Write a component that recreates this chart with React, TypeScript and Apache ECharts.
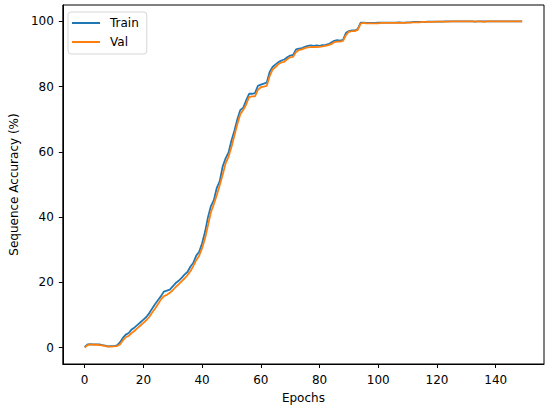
import React, { useEffect, useRef } from "react";
import * as echarts from "echarts";

const trainAcc = [
  0.2, 1.0, 1.1, 1.0, 1.0, 1.0, 0.8, 0.6, 0.4, 0.5,
  0.5, 0.7, 1.6, 3.0, 4.0, 4.5, 5.6, 6.2, 7.0, 7.8,
  8.6, 9.4, 10.6, 12.0, 13.4, 14.6, 15.8, 17.2, 17.5, 17.8,
  18.8, 19.8, 20.5, 21.4, 22.4, 23.2, 24.8, 26.0, 28.2, 29.4,
  32.0, 35.5, 40.0, 43.4, 45.2, 49.0, 51.0, 55.5, 58.0, 59.8,
  63.5, 66.5, 70.0, 72.8, 73.5, 75.8, 77.8, 77.8, 78.0, 80.2,
  80.6, 80.9, 81.2, 84.5, 86.0, 86.8, 87.5, 88.0, 88.3, 89.0,
  89.5, 89.7, 91.4, 91.6, 91.8, 92.2, 92.5, 92.6, 92.5, 92.6,
  92.5, 92.7, 92.8, 93.0, 93.5, 94.0, 94.2, 94.1, 94.3, 96.5,
  97.0, 97.2, 97.2, 97.6, 99.6, 99.6, 99.5, 99.5, 99.5, 99.5,
  99.6, 99.6, 99.6, 99.6, 99.6, 99.6, 99.6, 99.7, 99.6, 99.6,
  99.7, 99.7, 99.8, 99.8, 99.8, 99.8, 99.8, 99.9, 99.9, 99.9,
  99.9, 99.9, 99.9, 100, 100, 100, 100, 100, 100, 100,
  100, 100, 100, 99.9, 100, 100, 100, 100, 100, 100,
  100, 100, 100, 100, 100, 100, 100, 100, 100, 100,
];

const valAcc = [
  0.0, 0.8, 1.0, 0.9, 0.9, 0.8, 0.7, 0.5, 0.3, 0.3,
  0.4, 0.5, 1.0, 2.2, 3.2, 3.6, 4.5, 5.2, 6.0, 6.8,
  7.6, 8.4, 9.4, 10.8, 12.0, 13.4, 14.8, 15.8, 16.2, 16.8,
  17.6, 18.6, 19.4, 20.3, 21.2, 22.2, 23.4, 25.0, 26.8, 28.2,
  30.5, 33.5, 37.5, 41.5, 44.0, 46.8, 49.8, 53.0, 56.5, 58.5,
  61.5, 65.0, 68.5, 71.5, 72.8, 74.5, 76.8, 77.0, 77.0, 79.0,
  79.8, 80.0, 80.2, 83.2, 85.2, 86.0, 86.9, 87.4, 87.6, 88.4,
  89.0, 89.1, 90.6, 91.2, 91.4, 91.8, 92.0, 92.1, 92.2, 92.1,
  92.2, 92.3, 92.5, 92.7, 93.0, 93.6, 93.8, 93.8, 94.0, 95.8,
  96.8, 97.0, 97.0, 97.4, 99.3, 99.5, 99.4, 99.4, 99.4, 99.4,
  99.4, 99.5, 99.5, 99.5, 99.5, 99.5, 99.5, 99.6, 99.5, 99.5,
  99.6, 99.6, 99.7, 99.7, 99.7, 99.8, 99.8, 99.8, 99.8, 99.8,
  99.9, 99.9, 99.9, 99.9, 99.9, 100, 100, 100, 100, 100,
  100, 100, 100, 99.9, 100, 100, 99.8, 100, 100, 100,
  100, 100, 100, 100, 100, 100, 100, 100, 100, 100,
];

const xTicks = [0, 20, 40, 60, 80, 100, 120, 140];
const yTicks = [0, 20, 40, 60, 80, 100];
const seriesNames = ["Train", "Val"];
const colors = ["#1f77b4", "#ff7f0e"];

const FONT = "DejaVu Sans";

export default function App() {
  const ref = useRef<HTMLDivElement>(null);

  useEffect(() => {
    if (!ref.current) return;
    const chart = echarts.init(ref.current, undefined, { renderer: "svg" });
    const toPairs = (arr: number[]) => arr.map((v, i) => [i, v]);
    const n = trainAcc.length;
    const xPad = (n - 1) * 0.05;

    chart.setOption({
      animation: false,
      backgroundColor: "#ffffff",
      textStyle: { fontFamily: FONT },
      grid: {
        left: 62,
        right: 6,
        top: 5,
        bottom: 48,
        show: true,
        borderColor: "#000",
        borderWidth: 1,
        backgroundColor: "transparent",
      },
      legend: {
        left: 68,
        top: 12,
        orient: "vertical",
        data: seriesNames,
        icon: "rect",
        itemWidth: 28,
        itemHeight: 2,
        itemGap: 7,
        padding: [5, 8, 6, 4],
        borderColor: "#d6d6d6",
        borderWidth: 1,
        borderRadius: 3,
        backgroundColor: "rgba(255,255,255,0.8)",
        textStyle: {
          fontFamily: FONT,
          fontSize: 12,
          color: "#000",
          padding: [0, 0, 0, 5],
        },
      },
      xAxis: {
        type: "value",
        min: -xPad,
        max: n - 1 + xPad,
        name: "Epochs",
        nameLocation: "middle",
        nameGap: 28,
        nameTextStyle: { fontFamily: FONT, fontSize: 12, color: "#000" },
        axisLine: { show: true, onZero: false, lineStyle: { color: "#000", width: 1 } },
        axisTick: {
          show: true,
          length: 4,
          inside: false,
          customValues: xTicks,
          lineStyle: { color: "#000", width: 1 },
        },
        axisLabel: {
          customValues: xTicks,
          margin: 10,
          fontFamily: FONT,
          fontSize: 12,
          color: "#000",
        },
        splitLine: { show: false },
      },
      yAxis: {
        type: "value",
        min: -5,
        max: 105,
        name: "Sequence Accuracy (%)",
        nameLocation: "middle",
        nameGap: 42,
        nameTextStyle: { fontFamily: FONT, fontSize: 12, color: "#000" },
        axisLine: { show: true, onZero: false, lineStyle: { color: "#000", width: 1 } },
        axisTick: {
          show: true,
          length: 4,
          inside: false,
          customValues: yTicks,
          lineStyle: { color: "#000", width: 1 },
        },
        axisLabel: {
          customValues: yTicks,
          margin: 9,
          fontFamily: FONT,
          fontSize: 12,
          color: "#000",
        },
        splitLine: { show: false },
      },
      series: [
        {
          name: seriesNames[0],
          type: "line",
          data: toPairs(trainAcc),
          symbol: "none",
          color: colors[0],
          lineStyle: { color: colors[0], width: 1.8 },
        },
        {
          name: seriesNames[1],
          type: "line",
          data: toPairs(valAcc),
          symbol: "none",
          color: colors[1],
          lineStyle: { color: colors[1], width: 1.8 },
        },
      ],
    });

    return () => chart.dispose();
  }, []);

  return (
    <div
      ref={ref}
      style={{ position: "fixed", left: 0, top: 0, width: 550, height: 412 }}
    />
  );
}
